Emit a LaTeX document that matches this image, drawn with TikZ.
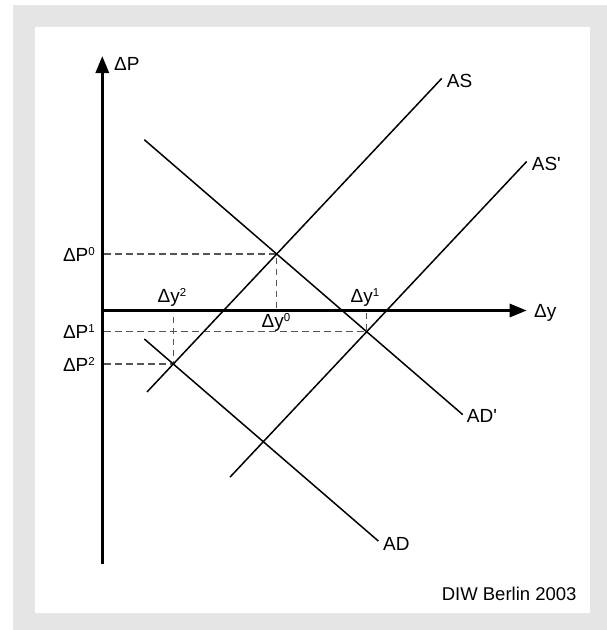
\documentclass[tikz,border=0pt]{standalone}
\usepackage{fontspec}
\setmainfont{Liberation Sans}
\newfontfamily\labf{Liberation Sans}
\usetikzlibrary{arrows.meta,calc}
\definecolor{bg}{HTML}{E5E5E5}
\definecolor{guidecol}{HTML}{555555}
\newcommand\supr[1]{\raisebox{5.6pt}{\fontsize{11.5}{11.5}\selectfont #1}}
\begin{document}
\begin{tikzpicture}[x=1pt,y=-1pt,
  curve/.style={line width=1.5pt,black},
  axis/.style={line width=3pt,-{Triangle[length=17pt,width=13pt]}},
  guide/.style={line width=1.1pt,color=guidecol,dash pattern=on 6.5pt off 4.5pt},
  lbl/.style={inner sep=0pt,font=\labf\fontsize{19}{19}\selectfont},
  src/.style={inner sep=0pt,font=\labf\fontsize{18.5}{18.5}\selectfont},
]
\useasboundingbox (0,0) rectangle (607,630);
\fill[white] (0,0) rectangle (607,630);
\fill[bg] (13,5) rectangle (607,630);
\fill[white] (35,27) rectangle (590,613);

% key points
\coordinate (E0) at (276.7,254);
\coordinate (E1) at (366.7,331.7);
\coordinate (E2) at (173.3,364);
\coordinate (O) at (102.3,310.5);
\coordinate (Ytop) at (102.3,56);
\coordinate (Ybot) at (102.3,564);
\coordinate (Xend) at (526.7,310.5);
% curve end points
\coordinate (ASa) at (147.04,391.94);
\coordinate (ASb) at (441.73,78.44);
\coordinate (ASpa) at (230.01,477.12);
\coordinate (ASpb) at (526.66,161.53);
\coordinate (ADpa) at (144.31,139.70);
\coordinate (ADpb) at (462.73,414.61);
\coordinate (ADa) at (144.32,338.98);
\coordinate (ADb) at (378.32,541.0);

% guides
\draw[guide] ($(E0 -| O)+(2,0)$) -- (E0) -- (E0 |- O);
\draw[guide] ($(E1 -| O)+(2,0)$) -- (E1) -- (E1 |- O);
\draw[guide] ($(E2 -| O)+(2,0)$) -- (E2) -- (E2 |- O);

% curves
\draw[curve] (ASa) -- (ASb);
\draw[curve] (ASpa) -- (ASpb);
\draw[curve] (ADpa) -- (ADpb);
\draw[curve] (ADa) -- (ADb);

% axes
\draw[axis] (Ybot) -- (Ytop);
\draw[axis] (O) -- (Xend);

% labels
\node[lbl,anchor=base west] (lP) at (114,70) {ΔP};
\node[lbl,anchor=base west] (ly) at (534,317.3) {Δy};
\node[lbl,anchor=base west] (lAS) at (446.7,87.3) {AS};
\node[lbl,anchor=base west] (lASp) at (531.7,170.7) {AS'};
\node[lbl,anchor=base west] (lADp) at (466.7,422.3) {AD'};
\node[lbl,anchor=base west] (lAD) at (383,550) {AD};
\node[lbl,anchor=base east] (lP0) at (95,261) {ΔP\supr{0}};
\node[lbl,anchor=base east] (lP1) at (95,338.5) {ΔP\supr{1}};
\node[lbl,anchor=base east] (lP2) at (95,371) {ΔP\supr{2}};
\node[lbl,anchor=base] (ly2) at (172,302) {Δy\supr{2}};
\node[lbl,anchor=base] (ly0) at (276,327) {Δy\supr{0}};
\node[lbl,anchor=base] (ly1) at (365,302) {Δy\supr{1}};
\node[src,anchor=base east] (source) at (576.7,600) {DIW Berlin 2003};
\end{tikzpicture}
\end{document}
